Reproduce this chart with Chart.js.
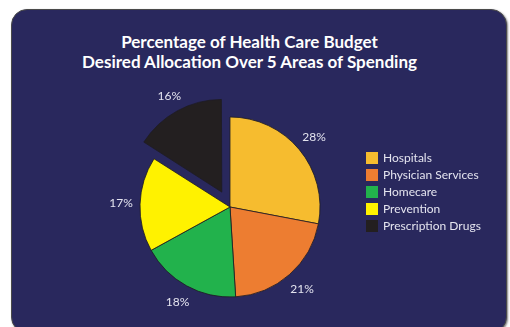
<!DOCTYPE html>
<html>
<head>
<meta charset="utf-8">
<script src="https://cdn.jsdelivr.net/npm/chart.js@4/dist/chart.umd.min.js"></script>
<style>
    body { margin: 0; background: #ffffff; width: 510px; height: 327px; overflow: hidden; position: relative; }
    #card {
        position: absolute; left: 11px; top: 9px; width: 494px; height: 322px;
        background: #29285d; border: 1.5px solid #4a4a4a; border-radius: 16px;
        box-shadow: 1px 1px 2px rgba(0, 0, 0, 0.5);
    }
    #title {
        position: absolute; left: 0; top: 32px; width: 499px; text-align: center;
        font: bold 17px Lato, sans-serif; line-height: 20px; color: #ffffff;
    }
    #distanceChart { position: absolute; left: 0; top: 0; }
    #legend {
        position: absolute; left: 366px; top: 149px; margin: 0; padding: 0; list-style: none;
        font: 12px Lato, sans-serif; color: #e4e4ef;
    }
    #legend li { height: 17px; display: flex; align-items: center; }
    #legend span { display: inline-block; width: 12px; height: 12px; margin-right: 5px; }
</style>
</head>
<body>
<div id="card"></div>
<div id="title">Percentage of Health Care Budget<br>Desired Allocation Over 5 Areas of Spending</div>
<canvas id="distanceChart" width="510" height="327"></canvas>
<ul id="legend"></ul>
<script>
//Spending areas and their share of the budget
const areas = ['Hospitals', 'Physician Services', 'Homecare', 'Prevention', 'Prescription Drugs'];
const shares = [28, 21, 18, 17, 16];
const sliceColors = ['#f6bc2f', '#ed7d31', '#22b24c', '#fff200', '#231f20'];
//Only the last slice is pulled out (the arc moves by a quarter of this value)
const sliceOffsets = [0, 0, 0, 0, 68];

//Draws the percentage next to each slice
const percentLabels = {
    id: 'percentLabels',
    afterDatasetsDraw(chart) {
        const ctx = chart.ctx;
        const meta = chart.getDatasetMeta(0);
        ctx.save();
        ctx.font = '12px Lato, sans-serif';
        ctx.fillStyle = '#e4e4ef';
        ctx.textAlign = 'center';
        ctx.textBaseline = 'middle';
        meta.data.forEach((arc, i) => {
            const p = arc.getProps(['x', 'y', 'startAngle', 'endAngle', 'outerRadius']);
            const mid = (p.startAngle + p.endAngle) / 2;
            const r = p.outerRadius + 19 + sliceOffsets[i] / 4;
            ctx.fillText(shares[i] + '%', p.x + Math.cos(mid) * r, p.y + Math.sin(mid) * r);
        });
        ctx.restore();
    }
};

const data = {
    labels: areas,
    datasets: [{
        data: shares,
        backgroundColor: sliceColors,
        borderColor: '#1e1c22',
        borderWidth: 0.8,
        offset: sliceOffsets,
        radius: 90
    }]
};

const config = {
    type: 'pie',
    data: data,
    options: {
        responsive: false,
        animation: false,
        layout: {
            padding: { left: 0, right: 50, top: 100, bottom: 13 }
        },
        plugins: {
            legend: { display: false },
            title: { display: false },
            tooltip: { enabled: false }
        }
    },
    plugins: [percentLabels]
};

const ctx = document.getElementById('distanceChart').getContext('2d');
const chart = new Chart(ctx, config);

//Legend list built from the chart's own items
const legendList = document.getElementById('legend');
chart.options.plugins.legend.labels.generateLabels(chart).forEach(item => {
    const li = document.createElement('li');
    const box = document.createElement('span');
    box.style.background = item.fillStyle;
    li.appendChild(box);
    li.appendChild(document.createTextNode(item.text));
    legendList.appendChild(li);
});
</script>
</body>
</html>
